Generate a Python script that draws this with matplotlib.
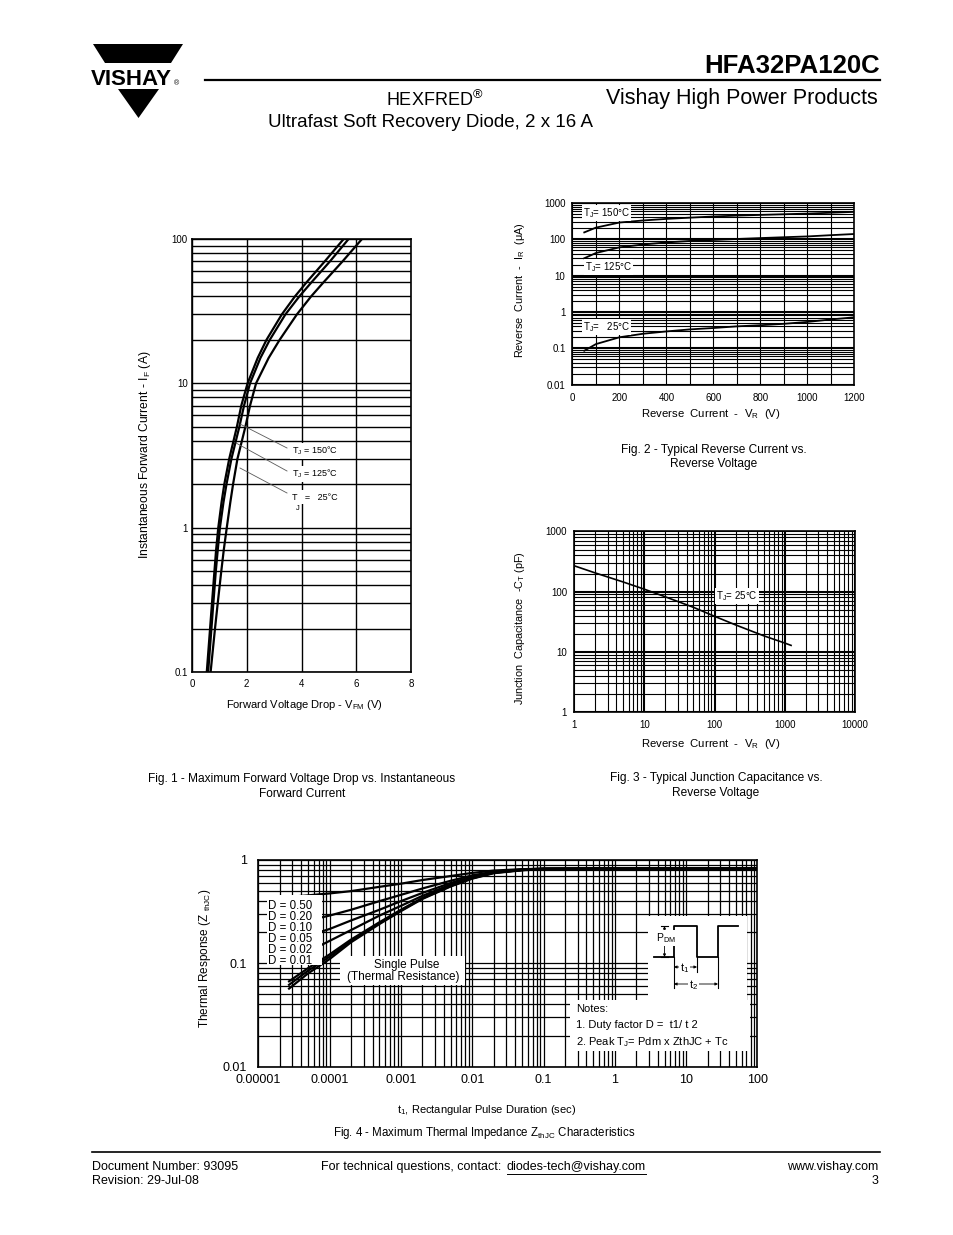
import matplotlib
matplotlib.use("Agg")
import matplotlib.pyplot as plt
from matplotlib.lines import Line2D
from matplotlib.patches import Polygon, Rectangle, FancyArrowPatch
from matplotlib.ticker import NullFormatter

W, H = 954, 1235

# Fig. 1 - forward current (A) vs. forward voltage drop (V)
if_amps = [0.1, 0.2, 0.3, 0.5, 0.7, 1, 1.5, 2, 3, 5, 7, 10, 15, 20, 30, 40, 50, 70, 100, 110]
vfm_150 = [0.54, 0.66, 0.73, 0.82, 0.88, 0.96, 1.08, 1.18, 1.36, 1.64, 1.8, 2.03,
           2.4, 2.72, 3.28, 3.76, 4.18, 4.85, 5.54, 5.74]
vfm_125 = [0.59, 0.71, 0.78, 0.87, 0.94, 1.02, 1.15, 1.26, 1.44, 1.73, 1.9, 2.12,
           2.5, 2.84, 3.41, 3.92, 4.36, 5.04, 5.72, 5.92]
vfm_25 = [0.68, 0.84, 0.94, 1.07, 1.16, 1.27, 1.4, 1.5, 1.66, 1.95, 2.12, 2.34,
          2.8, 3.2, 3.83, 4.35, 4.8, 5.5, 6.21, 6.42]

# Fig. 2 - reverse current (uA) vs. reverse voltage (V)
vr_rev = [50, 100, 200, 300, 400, 500, 600, 700, 800, 900, 1000, 1100, 1200]
ir_150 = [155, 210, 290, 330, 365, 395, 425, 450, 470, 490, 510, 540, 570]
ir_125 = [30, 42, 60, 72, 82, 90, 96, 102, 108, 114, 120, 130, 140]
ir_25 = [0.085, 0.13, 0.2, 0.25, 0.29, 0.33, 0.36, 0.4, 0.43, 0.47, 0.53, 0.62, 0.71]

# Fig. 3 - junction capacitance (pF) vs. reverse voltage (V)
vr_cap = [1, 2, 5, 10, 20, 50, 100, 200, 500, 1000, 1230]
ct_25 = [270, 205, 145, 110, 82, 55, 39, 28, 18.5, 14, 12.8]

# Fig. 4 - thermal impedance vs. pulse duration (s)
t_pulse = [2.7e-5, 5e-5, 1e-4, 2e-4, 5e-4, 1e-3, 2e-3, 5e-3, 1e-2, 2e-2, 5e-2, 0.1, 1, 10, 100]
zth_d50 = [0.44, 0.455, 0.475, 0.50, 0.55, 0.59, 0.64, 0.70, 0.75, 0.79, 0.815, 0.825, 0.83, 0.83, 0.83]
zth_d20 = [0.24, 0.26, 0.29, 0.33, 0.40, 0.46, 0.53, 0.63, 0.71, 0.77, 0.81, 0.825, 0.83, 0.83, 0.83]
zth_d10 = [0.165, 0.185, 0.215, 0.26, 0.33, 0.40, 0.48, 0.60, 0.69, 0.765, 0.805, 0.823, 0.83, 0.83, 0.83]
zth_d05 = [0.11, 0.13, 0.165, 0.21, 0.29, 0.36, 0.45, 0.58, 0.68, 0.76, 0.80, 0.82, 0.828, 0.828, 0.828]
zth_d02 = [0.067, 0.09, 0.122, 0.17, 0.25, 0.33, 0.43, 0.565, 0.67, 0.755, 0.80, 0.82, 0.825, 0.825, 0.825]
zth_d01 = [0.062, 0.085, 0.116, 0.165, 0.245, 0.325, 0.425, 0.56, 0.665, 0.75, 0.80, 0.818, 0.822, 0.822, 0.822]
zth_single = [0.057, 0.08, 0.11, 0.16, 0.24, 0.32, 0.42, 0.555, 0.66, 0.745, 0.795, 0.815, 0.82, 0.82, 0.82]
duty_labels = ["D = 0.50", "D = 0.20", "D = 0.10", "D = 0.05", "D = 0.02", "D = 0.01"]

plt.rcParams['font.family'] = ['Liberation Sans', 'DejaVu Sans']
plt.rcParams['mathtext.default'] = 'regular'

fig = plt.figure(figsize=(W / 100, H / 100), dpi=100)


def fx(x):
    return x / W


def fy(y):
    return 1 - y / H


def add_ax(l, t, r, b):
    return fig.add_axes([fx(l), fy(b), (r - l) / W, (b - t) / H])


def text(x, y, s, **kw):
    return fig.text(fx(x), fy(y), s, **kw)


def line(xs, ys, **kw):
    kw.setdefault('color', 'k')
    fig.add_artist(Line2D([fx(v) for v in xs], [fy(v) for v in ys], **kw))


def arrow(x0, y0, x1, y1):
    fig.add_artist(FancyArrowPatch((fx(x0), fy(y0)), (fx(x1), fy(y1)),
                                   transform=fig.transFigure, zorder=6,
                                   arrowstyle='<|-|>', lw=0.6, color='k',
                                   mutation_scale=4, shrinkA=0, shrinkB=0))


def style_ax(ax, pad_x, pad_y, size):
    ax.tick_params(which='both', length=0, labelsize=size)
    ax.tick_params(axis='x', pad=pad_x)
    ax.tick_params(axis='y', pad=pad_y)
    for sp in ax.spines.values():
        sp.set_linewidth(1.2)
    ax.yaxis.set_minor_formatter(NullFormatter())
    ax.set_axisbelow(True)


# ---------------- header ----------------
fig.add_artist(Polygon([(fx(93), fy(44)), (fx(183), fy(44)), (fx(171), fy(63)), (fx(105), fy(63))],
                       closed=True, color='k', lw=0))
fig.add_artist(Polygon([(fx(118), fy(89)), (fx(159), fy(89)), (fx(138.5), fy(118))],
                       closed=True, color='k', lw=0))
text(91, 85, "VISHAY", fontsize=16, fontweight='bold', va='baseline', ha='left')
text(174, 85, "®", fontsize=5, va='baseline', ha='left')

text(880, 73, "HFA32PA120C", fontsize=18.5, fontweight='bold', ha='right', va='baseline')
line([205, 880], [80, 80], lw=1.6)
text(878, 104, "Vishay High Power Products", fontsize=15.5, ha='right', va='baseline')
text(386, 105.5, "HEXFRED$^{®}$", fontsize=13, ha='left', va='baseline')
text(268, 127, "Ultrafast Soft Recovery Diode, 2 x 16 A", fontsize=13.5, ha='left', va='baseline')

# ---------------- Fig. 1 ----------------
ax1 = add_ax(192, 239, 411, 672)
ax1.set_yscale('log')
ax1.set_xlim(0, 8)
ax1.set_ylim(0.1, 100)
ax1.set_xticks([0, 2, 4, 6, 8])
ax1.set_yticks([0.1, 1, 10, 100])
ax1.set_yticklabels(["0.1", "1", "10", "100"])
style_ax(ax1, 5, 3, 7)
ax1.grid(which='major', color='k', lw=1.0)
ax1.grid(which='minor', axis='y', color='k', lw=1.0)
for v in (vfm_150, vfm_125, vfm_25):
    ax1.plot(v, if_amps, color='k', lw=1.6)

text(145, 455, "Instantaneous Forward Current - I$_F$ (A)", fontsize=8.7, rotation=90,
     ha='center', va='center')
text(305, 705, "Forward Voltage Drop - V$_{FM}$ (V)", fontsize=8, ha='center', va='center')
box = dict(facecolor='white', edgecolor='none', pad=1.5)
line([240, 287], [424, 448], lw=0.6, color='0.35')
line([236, 287], [443, 471], lw=0.6, color='0.35')
line([240, 287], [468, 493], lw=0.6, color='0.35')
text(292, 451, "T$_J$ = 150°C", fontsize=6.5, va='center', ha='left', bbox=box)
text(292, 474, "T$_J$ = 125°C", fontsize=6.5, va='center', ha='left', bbox=box)
text(292, 497, "T   =   25°C", fontsize=6.5, va='center', ha='left', bbox=box)
text(296, 509, "J", fontsize=5.5, va='center', ha='left')
text(302, 782, "Fig. 1 - Maximum Forward Voltage Drop vs. Instantaneous", fontsize=8.6,
     ha='center', va='baseline')
text(302, 797, "Forward Current", fontsize=8.6, ha='center', va='baseline')

# ---------------- Fig. 2 ----------------
ax2 = add_ax(572.5, 203, 854.5, 384.5)
ax2.set_yscale('log')
ax2.set_xlim(0, 1200)
ax2.set_ylim(0.01, 1000)
ax2.set_xticks(range(0, 1201, 200))
ax2.set_xticks(range(100, 1200, 200), minor=True)
ax2.set_yticks([0.01, 0.1, 1, 10, 100, 1000])
ax2.set_yticklabels(["0.01", "0.1", "1", "10", "100", "1000"])
style_ax(ax2, 6, 5, 7)
ax2.grid(which='major', color='k', lw=1.5)
ax2.grid(which='minor', color='k', lw=0.8)
ax2.xaxis.grid(True, which='major', lw=0.8)
for v in (ir_150, ir_125, ir_25):
    ax2.plot(vr_rev, v, color='k', lw=1.3)
box2 = dict(facecolor='white', edgecolor='none', pad=1.0)
text(583, 213, "T$_J$= 150°C", fontsize=7, va='center', ha='left', bbox=box2)
text(585, 267, "T$_J$= 125°C", fontsize=7, va='center', ha='left', bbox=box2)
text(583, 327, "T$_J$=   25°C", fontsize=7, va='center', ha='left', bbox=box2)
text(520, 290, "Reverse  Current  -  I$_R$  (μA)", fontsize=7.8, rotation=90,
     ha='center', va='center')
text(711, 414, "Reverse  Current  -  V$_R$  (V)", fontsize=8.2, ha='center', va='center')
text(714, 453, "Fig. 2 - Typical Reverse Current vs.", fontsize=8.6, ha='center', va='baseline')
text(714, 467, "Reverse Voltage", fontsize=8.6, ha='center', va='baseline')

# ---------------- Fig. 3 ----------------
ax3 = add_ax(574, 531.5, 855, 712)
ax3.set_xscale('log')
ax3.set_yscale('log')
ax3.set_xlim(1, 10000)
ax3.set_ylim(1, 1000)
ax3.set_xticks([1, 10, 100, 1000, 10000])
ax3.set_xticklabels(["1", "10", "100", "1000", "10000"])
ax3.set_yticks([1, 10, 100, 1000])
ax3.set_yticklabels(["1", "10", "100", "1000"])
style_ax(ax3, 6, 5, 7)
ax3.xaxis.set_minor_formatter(NullFormatter())
ax3.grid(which='major', color='k', lw=1.5)
ax3.grid(which='minor', color='k', lw=0.8)
ax3.plot(vr_cap, ct_25, color='k', lw=1.2)
text(716, 596, "T$_J$= 25°C", fontsize=7, va='center', ha='left', bbox=box2)
text(520, 628, "Junction  Capacitance  -C$_T$ (pF)", fontsize=7.8, rotation=90,
     ha='center', va='center')
text(711, 744, "Reverse  Current  -  V$_R$  (V)", fontsize=8.2, ha='center', va='center')
text(716, 781, "Fig. 3 - Typical Junction Capacitance vs.", fontsize=8.6, ha='center', va='baseline')
text(716, 796, "Reverse Voltage", fontsize=8.6, ha='center', va='baseline')

# ---------------- Fig. 4 ----------------
ax4 = add_ax(258.3, 860, 757.5, 1066.7)
ax4.set_xscale('log')
ax4.set_yscale('log')
ax4.set_xlim(1e-5, 100)
ax4.set_ylim(0.01, 1)
ax4.set_xticks([1e-5, 1e-4, 1e-3, 1e-2, 0.1, 1, 10, 100])
ax4.set_xticklabels(["0.00001", "0.0001", "0.001", "0.01", "0.1", "1", "10", "100"])
ax4.set_yticks([0.01, 0.1, 1])
ax4.set_yticklabels(["0.01", "0.1", "1"])
style_ax(ax4, 5, 8, 9)
ax4.xaxis.set_minor_formatter(NullFormatter())
ax4.grid(which='both', color='k', lw=0.9)
for z in (zth_d50, zth_d20, zth_d10, zth_d05, zth_d02, zth_d01, zth_single):
    ax4.plot(t_pulse, z, color='k', lw=1.6)

# white areas over the grid
for (x0, y0, w, h) in [(0.624, 0.075, 0.361, 0.25), (0.781, 0.32, 0.198, 0.41),
                       (0.017, 0.49, 0.11, 0.34), (0.164, 0.395, 0.25, 0.14)]:
    ax4.add_patch(Rectangle((x0, y0), w, h, transform=ax4.transAxes,
                            facecolor='white', edgecolor='none', zorder=3))

for i, lab in enumerate(duty_labels):
    text(268, 906 + i * 11, lab, fontsize=8.3, ha='left', va='center', zorder=5)
text(407, 965, "Single Pulse", fontsize=8.5, ha='center', va='center', zorder=5)
text(403, 977, "(Thermal Resistance)", fontsize=8.5, ha='center', va='center', zorder=5)
text(576, 1009, "Notes:", fontsize=8, ha='left', va='center', zorder=5)
text(576, 1025, "1. Duty factor D =  t1/ t 2", fontsize=8, ha='left', va='center', zorder=5)
text(576, 1042, "2. Peak T$_J$= Pdm x ZthJC + Tc", fontsize=8, ha='left', va='center', zorder=5)

# pulse sketch
line([654, 674, 674, 697, 697, 718, 718, 738], [957, 957, 926, 926, 957, 957, 926, 926],
     lw=1.3, zorder=6)
line([674, 674], [957, 988], lw=0.8, zorder=6)
line([697, 697], [957, 972], lw=0.8, zorder=6)
line([718, 718], [957, 988], lw=0.8, zorder=6)
line([661, 668], [926, 926], lw=0.8, zorder=6)
line([661, 668], [957, 957], lw=0.8, zorder=6)
arrow(664.5, 926, 664.5, 957)
arrow(674, 967, 697, 967)
arrow(674, 984, 718, 984)
wb = dict(facecolor='white', edgecolor='none', pad=0.5)
text(656, 938, "P$_{DM}$", fontsize=7.5, ha='left', va='center', zorder=7, bbox=wb)
text(680, 968, "t$_1$", fontsize=8, ha='left', va='center', zorder=7, bbox=wb)
text(689, 985, "t$_2$", fontsize=8, ha='left', va='center', zorder=7, bbox=wb)

text(205, 958, "Thermal Response (Z $_{thJC}$)", fontsize=8.5, rotation=90,
     ha='center', va='center')
text(487, 1110, "t$_1$, Rectangular Pulse Duration (sec)", fontsize=8, ha='center', va='center')
text(484, 1136, "Fig. 4 - Maximum Thermal Impedance Z$_{thJC}$ Characteristics", fontsize=8.3,
     ha='center', va='baseline')

# ---------------- footer ----------------
line([92, 880], [1152, 1152], lw=1.2)
text(92, 1170, "Document Number: 93095", fontsize=9, ha='left', va='baseline')
text(92, 1184, "Revision: 29-Jul-08", fontsize=9, ha='left', va='baseline')
text(505, 1170, "For technical questions, contact: ", fontsize=9, ha='right', va='baseline')
email = text(507, 1170, "diodes-tech@vishay.com", fontsize=9, ha='left', va='baseline')
text(878, 1170, "www.vishay.com", fontsize=9, ha='right', va='baseline')
text(878, 1184, "3", fontsize=9, ha='right', va='baseline')

fig.canvas.draw()
bb = email.get_window_extent()
line([bb.x0, bb.x1], [H - bb.y0 + 1, H - bb.y0 + 1], lw=0.7)

fig.savefig("out.png", dpi=100)
